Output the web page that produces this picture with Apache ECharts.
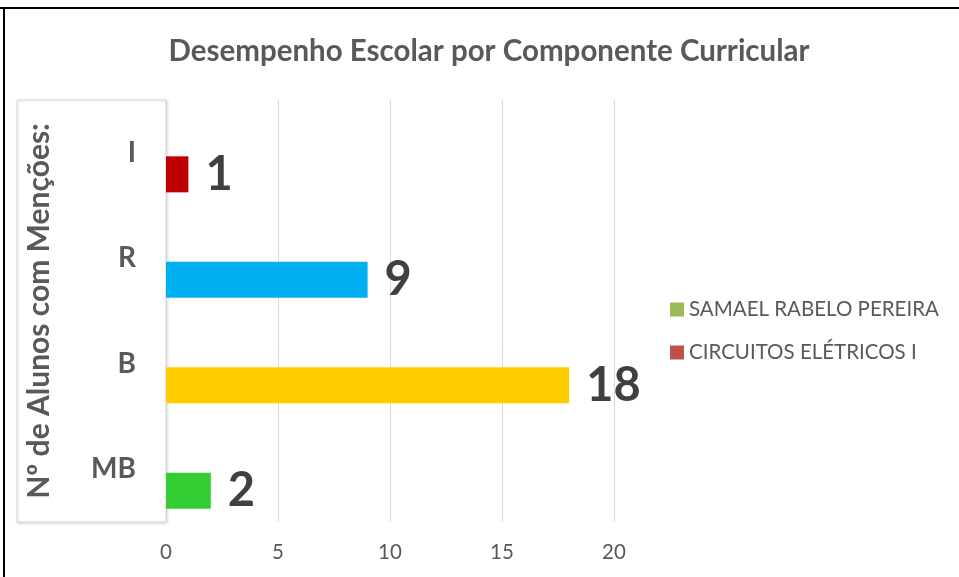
<!DOCTYPE html>
<html>
<head>
<meta charset="utf-8">
<script src="https://cdn.jsdelivr.net/npm/echarts@6/dist/echarts.min.js"></script>
<style>
    html, body { margin: 0; padding: 0; background: #fff; }
    #main { width: 959px; height: 577px; }
</style>
</head>
<body>
<div id="main"></div>
<script>
// dados
var categorias = ['MB', 'B', 'R', 'I'];
var valores = [2, 18, 9, 1];
var coresBarras = ['#33CC33', '#FFCC00', '#00B0F0', '#C00000'];
var series1 = 'SAMAEL RABELO PEREIRA';
var series2 = 'CIRCUITOS ELÉTRICOS I';
var ticksX = [0, 5, 10, 15, 20];

var chart = echarts.init(document.getElementById('main'));
var fonte = 'Lato, "Open Sans", sans-serif';

chart.setOption({
    backgroundColor: '#fff',
    animation: false,
    textStyle: { fontFamily: fonte },
    title: {
        text: 'Desempenho Escolar por Componente Curricular',
        left: 484,
        top: 31,
        textAlign: 'center',
        textStyle: { fontFamily: fonte, fontSize: 29.5, fontWeight: 'bold', color: '#595959' }
    },
    legend: {
        orient: 'vertical',
        left: 665,
        top: 294,
        itemWidth: 14,
        itemHeight: 14,
        itemGap: 22,
        icon: 'rect',
        textStyle: { fontFamily: fonte, fontSize: 20.5, color: '#595959' },
        data: [series1, series2]
    },
    grid: { left: 166, width: 448, top: 100, height: 422, containLabel: false },
    xAxis: {
        type: 'value',
        min: ticksX[0],
        max: ticksX[ticksX.length - 1],
        interval: 5,
        axisLine: { show: false },
        axisTick: { show: false },
        splitLine: { lineStyle: { color: '#d9d9d9', width: 1 } },
        axisLabel: { margin: 20, fontFamily: fonte, fontSize: 20.5, color: '#595959' }
    },
    yAxis: {
        type: 'category',
        data: categorias,
        name: 'Nº de Alunos com Menções:',
        nameLocation: 'middle',
        nameRotate: 90,
        nameGap: 112,
        nameTextStyle: { fontFamily: fonte, fontSize: 30, fontWeight: 'bold', color: '#595959' },
        axisLine: { show: false },
        axisTick: { show: false },
        axisLabel: { margin: 30, fontFamily: fonte, fontSize: 28, fontWeight: 'bold', color: '#595959' }
    },
    graphic: [
        {
            type: 'rect', z: 0,
            shape: { x: 17, y: 100, width: 149, height: 422 },
            style: { fill: '#fff', stroke: '#d9d9d9', lineWidth: 1, shadowBlur: 3, shadowColor: 'rgba(0,0,0,0.15)', shadowOffsetX: 1, shadowOffsetY: 1 }
        },
        { type: 'rect', z: 10, shape: { x: 0, y: 7, width: 959, height: 2 }, style: { fill: '#000' } },
        { type: 'rect', z: 10, shape: { x: 3, y: 7, width: 2, height: 570 }, style: { fill: '#000' } }
    ],
    series: [
        {
            name: series2,
            type: 'bar',
            barWidth: 36,
            barGap: '20%',
            itemStyle: { color: '#C0504D' },
            data: categorias.map(function () { return '-'; })
        },
        {
            name: series1,
            type: 'bar',
            barWidth: 36,
            barGap: '20%',
            itemStyle: { color: '#9BBB59' },
            label: {
                show: true,
                position: 'right',
                distance: 17,
                fontFamily: fonte,
                fontSize: 47,
                fontWeight: 'bold',
                color: '#404040'
            },
            data: valores.map(function (v, i) {
                return { value: v, itemStyle: { color: coresBarras[i] } };
            })
        }
    ]
});
</script>
</body>
</html>
